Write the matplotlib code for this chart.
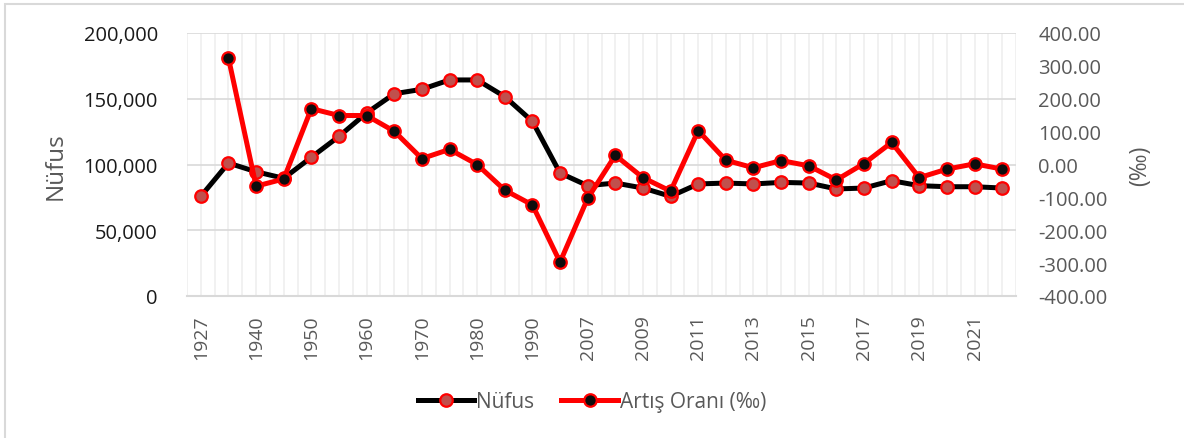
import numpy as np
import matplotlib.pyplot as plt
from matplotlib.patches import Rectangle
from matplotlib.ticker import FuncFormatter

plt.rcParams['font.family'] = ['Open Sans', 'DejaVu Sans']

years = ["1927", "1935", "1940", "1945", "1950", "1955", "1960", "1965", "1970", "1975",
         "1980", "1985", "1990", "2000", "2007", "2008", "2009", "2010", "2011", "2012",
         "2013", "2014", "2015", "2016", "2017", "2018", "2019", "2020", "2021", "2022"]

nufus = [75800, 101100, 94500, 89500, 105500, 121400, 139200, 153800, 157200, 164300,
         164300, 151600, 132800, 93500, 83900, 85900, 82100, 75800, 85200, 85900,
         85200, 86400, 85900, 81400, 82100, 87700, 83900, 83100, 83100, 82100]

artis = [np.nan, 324, -66, -44, 170, 149, 149, 101, 18, 46,
         0, -78, -123, -297, -103, 28, -40, -81, 103, 13,
         -10, 12, -4, -47, 3, 67, -40, -14, 2, -14]

x = np.arange(len(years))

fig = plt.figure(figsize=(11.84, 4.39), dpi=100)
fig.patches.append(Rectangle((5/1184, -0.1), 1.2, 1 - 5/439 + 0.1, transform=fig.transFigure,
                             fill=False, edgecolor='#d9d9d9', linewidth=1.5))

ax = fig.add_axes([187/1184, 1 - 297/439, 829/1184, 263/439])
ax2 = ax.twinx()

ax.plot(x, nufus, color='black', lw=3.6, marker='o', ms=9,
        mfc='#c0504d', mec='red', mew=1.6, label='Nüfus', zorder=3)
ax2.plot(x, artis, color='red', lw=3.6, marker='o', ms=9,
         mfc='#0d0d0d', mec='red', mew=1.6, label='Artış Oranı (‰)', zorder=3)

ax.set_xlim(-0.5, len(years) - 0.5)
ax.set_ylim(0, 200000)
ax.set_yticks(np.arange(0, 200001, 50000))
ax.yaxis.set_major_formatter(FuncFormatter(lambda v, p: f"{int(v):,}"))
ax2.set_ylim(-400, 400)
ax2.set_yticks(np.arange(-400, 401, 100))
ax2.yaxis.set_major_formatter(FuncFormatter(lambda v, p: f"{v:.2f}"))

# vertical grid at each category and between
for v in np.arange(-0.5, len(years), 0.5):
    ax.axvline(v, color='#efefef', lw=1.2, zorder=0)
for v in np.arange(50000, 200001, 50000):
    ax.axhline(v, color='#d9d9d9', lw=1.2, zorder=0.5)

ax.set_xticks(x[::2])
ax.set_xticklabels(years[::2], rotation=90, color='#595959', fontsize=14)
ax.tick_params(axis='x', length=0, pad=13)
ax.tick_params(axis='y', length=0, labelsize=14.5, labelcolor='#1a1a1a', pad=21)
ax2.tick_params(axis='y', length=0, labelsize=14.5, labelcolor='#595959', pad=16)

for a in (ax, ax2):
    for s in a.spines.values():
        s.set_visible(False)
ax.spines['bottom'].set_visible(True)
ax.spines['bottom'].set_color('#d9d9d9')
ax.spines['bottom'].set_linewidth(1.5)

fig.text(56/1184, 1 - 166/439, 'Nüfus', fontsize=17.5, color='#595959',
         rotation=90, ha='center', va='center')
fig.text(1140/1184, 1 - 166/439, '(‰)', fontsize=16.5, color='#595959',
         rotation=90, ha='center', va='center')

h1, l1 = ax.get_legend_handles_labels()
h2, l2 = ax2.get_legend_handles_labels()
fig.legend(h1 + h2, l1 + l2, loc='center', bbox_to_anchor=(0.5, 1 - 403/439), ncol=2,
           frameon=False, fontsize=15, labelcolor='#595959', handlelength=2.7,
           handletextpad=0.1, columnspacing=1.3)

fig.savefig('out.png', dpi=100)
